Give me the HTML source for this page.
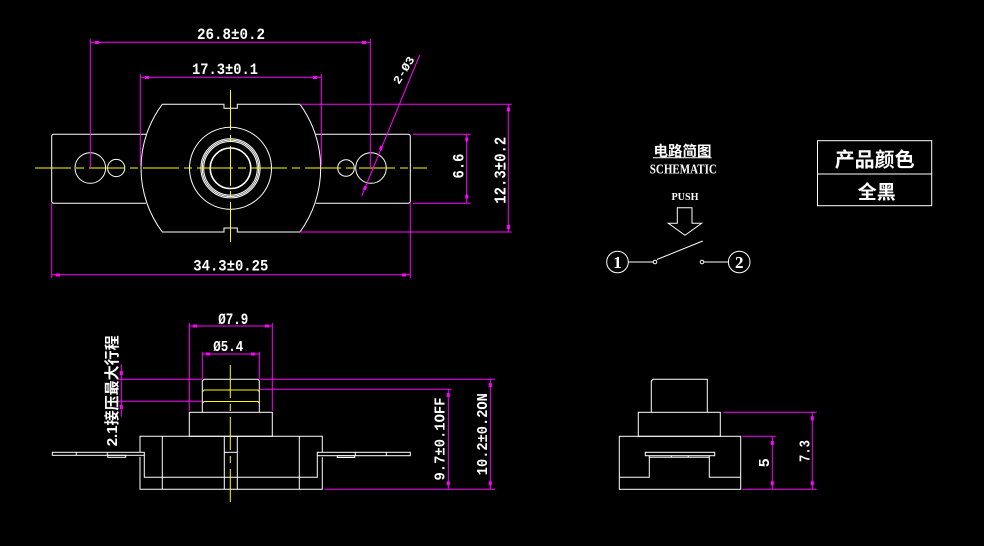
<!DOCTYPE html>
<html><head><meta charset="utf-8"><style>
html,body{margin:0;padding:0;background:#000;}
svg{display:block;}
text{font-family:"Liberation Mono","Noto Sans CJK SC",monospace;font-weight:bold;fill:#fff;}
.cjk{font-family:"Liberation Sans","Noto Sans CJK SC",sans-serif;font-weight:bold;}
.serif{font-family:"Liberation Serif","Noto Serif CJK SC",serif;font-weight:bold;}
</style></head><body>
<svg width="984" height="546" viewBox="0 0 984 546" xmlns="http://www.w3.org/2000/svg">
<rect width="984" height="546" fill="#000"/>

<!-- ===== TOP VIEW ===== -->
<g fill="none" stroke="#fff" stroke-width="1">
  <path d="M162.3,104.3 H224 V108.3 H237.3 V104.3 H300 A108.8,108.8 0 0 1 300,232 H237.3 V228 H224 V232 H162.3 A106.4,106.4 0 0 1 162.3,104.3 Z"/>
  <path d="M146,134.3 H54 Q51.7,134.3 51.7,136.5 V201 Q51.7,203.3 54,203.3 H146"/>
  <path d="M315.7,134.3 H408 Q410.3,134.3 410.3,136.5 V201 Q410.3,203.3 408,203.3 H315.7"/>
  <circle cx="90.3" cy="168" r="15.3"/>
  <circle cx="116.2" cy="168" r="8.6"/>
  <circle cx="346" cy="168" r="8.3"/>
  <circle cx="371" cy="168" r="15.3"/>
  <circle cx="230.5" cy="168.3" r="41"/>
  <circle cx="230.5" cy="168.3" r="29.6"/>
  <circle cx="230.5" cy="168.3" r="28.2"/>
  <circle cx="230.5" cy="168.3" r="26.8"/>
  <circle cx="230.5" cy="168.3" r="20.3" stroke-width="1.6"/>
</g>
<g stroke="#ffff00" stroke-width="1" fill="none">
  <line x1="35" y1="168" x2="427" y2="168" stroke-dasharray="36 5 8 5"/>
  <line x1="230.5" y1="90" x2="230.5" y2="247" stroke-dasharray="40 5 6 5"/>
</g>
<g stroke="#ff00ff" stroke-width="1" fill="none">
  <line x1="90.3" y1="39" x2="90.3" y2="168"/>
  <line x1="370.3" y1="39" x2="370.3" y2="168"/>
  <line x1="90.3" y1="42.3" x2="370.3" y2="42.3"/>
  <line x1="140.3" y1="74" x2="140.3" y2="165.7"/>
  <line x1="321.3" y1="74" x2="321.3" y2="165.7"/>
  <line x1="140.3" y1="77.3" x2="321.3" y2="77.3"/>
  <line x1="51.7" y1="203.3" x2="51.7" y2="278"/>
  <line x1="410.3" y1="203.3" x2="410.3" y2="278"/>
  <line x1="51.7" y1="274.7" x2="410.3" y2="274.7"/>
  <line x1="300" y1="104.3" x2="511.7" y2="104.3"/>
  <line x1="300" y1="232" x2="511.7" y2="232"/>
  <line x1="508.3" y1="104.3" x2="508.3" y2="232"/>
  <line x1="413" y1="134.3" x2="470.7" y2="134.3"/>
  <line x1="413" y1="203.3" x2="470.7" y2="203.3"/>
  <line x1="466.7" y1="134.3" x2="466.7" y2="203.3"/>
  <line x1="361.7" y1="196" x2="419.7" y2="55"/>
</g>
<g fill="#ff00ff">
  <rect x="95" y="41" width="4" height="3"/>
  <rect x="362" y="41" width="4" height="3"/>
  <rect x="145" y="76" width="4" height="3"/>
  <rect x="313" y="76" width="4" height="3"/>
  <rect x="56" y="273.5" width="4" height="3"/>
  <rect x="402" y="273.5" width="4" height="3"/>
  <rect x="507" y="107.5" width="3" height="4"/>
  <rect x="507" y="225" width="3" height="4"/>
  <rect x="465.3" y="137.5" width="3" height="4"/>
  <rect x="465.3" y="194.5" width="3" height="4"/>
  <rect x="379.5" y="146" width="3" height="4" transform="rotate(22 381 148)"/>
  <rect x="363.5" y="186" width="3" height="4" transform="rotate(22 365 188)"/>
</g>
<text x="231" y="39" font-size="16" text-anchor="middle" textLength="68" lengthAdjust="spacingAndGlyphs">26.8±0.2</text>
<text x="225" y="74" font-size="16" text-anchor="middle" textLength="66" lengthAdjust="spacingAndGlyphs">17.3±0.1</text>
<text x="230.8" y="270.7" font-size="16" text-anchor="middle" textLength="75" lengthAdjust="spacingAndGlyphs">34.3±0.25</text>
<text transform="translate(499.3,170.3) rotate(-90)" x="0" y="6" font-size="16.5" text-anchor="middle" textLength="67" lengthAdjust="spacingAndGlyphs">12.3±0.2</text>
<text transform="translate(458,166) rotate(-90)" x="0" y="5.6" font-size="15.5" text-anchor="middle" textLength="25" lengthAdjust="spacingAndGlyphs">6.6</text>
<text transform="translate(403.5,70) rotate(-58)" x="0" y="4" font-size="11.5" text-anchor="middle" textLength="30" lengthAdjust="spacingAndGlyphs">2-Ø3</text>

<!-- ===== SCHEMATIC ===== -->
<text class="cjk" x="682.5" y="156" font-size="14" text-anchor="middle" textLength="58" lengthAdjust="spacingAndGlyphs">电路简图</text>
<line x1="653" y1="157.8" x2="711.7" y2="157.8" stroke="#fff" stroke-width="1"/>
<text class="serif" x="683.3" y="173.3" font-size="14" text-anchor="middle" textLength="67" lengthAdjust="spacingAndGlyphs">SCHEMATIC</text>
<text class="serif" x="685" y="200" font-size="11" text-anchor="middle" textLength="27" lengthAdjust="spacingAndGlyphs">PUSH</text>
<g fill="none" stroke="#fff" stroke-width="1">
  <polygon points="677.3,207.7 692,207.7 692,223.3 701.7,223.3 685,235.3 668.3,223.3 677.3,223.3"/>
  <circle cx="617.5" cy="262" r="10.8"/>
  <circle cx="739.2" cy="262" r="10.8"/>
  <line x1="628.3" y1="262" x2="653" y2="262"/>
  <circle cx="655" cy="262" r="1.8"/>
  <line x1="657" y1="259.5" x2="702.7" y2="241"/>
  <circle cx="702" cy="262" r="1.8"/>
  <line x1="704" y1="262" x2="728.4" y2="262"/>
</g>
<text class="serif" x="617.5" y="268" font-size="17" text-anchor="middle">1</text>
<text class="serif" x="739.2" y="268" font-size="17" text-anchor="middle">2</text>

<rect x="817.5" y="140.7" width="114.2" height="65" fill="none" stroke="#fff" stroke-width="1"/>
<line x1="817.5" y1="174" x2="931.7" y2="174" stroke="#fff" stroke-width="1"/>
<text class="cjk" x="874.7" y="166.5" font-size="20" text-anchor="middle">产品颜色</text>
<text class="cjk" x="876.7" y="198.6" font-size="19" text-anchor="middle">全黑</text>

<!-- ===== SIDE VIEW (bottom left) ===== -->
<g fill="none" stroke="#fff" stroke-width="1">
  <path d="M202.3,412.3 V381 L204,379.3 H258 L259.3,381 V412.3"/>
  <rect x="189.3" y="412.3" width="83" height="24"/>
  <path d="M140,452.3 V436.3 H322.3 V452.3"/>
  <path d="M140,456.7 V489.3 H322.3 V457.3"/>
  <path d="M144.3,455.3 V477.3 H317.3 V455.7"/>
  <line x1="162.3" y1="436.3" x2="162.3" y2="489.3"/>
  <line x1="224.3" y1="436.3" x2="224.3" y2="489.3"/>
  <line x1="237.3" y1="436.3" x2="237.3" y2="489.3"/>
  <line x1="299.3" y1="436.3" x2="299.3" y2="489.3"/>
  <line x1="224.3" y1="452.3" x2="237.3" y2="452.3"/>
  <rect x="52.3" y="452.3" width="92" height="3"/>
  <line x1="76.3" y1="452.3" x2="76.3" y2="455.3"/>
  <line x1="107.3" y1="452.3" x2="107.3" y2="455.3"/>
  <rect x="107.7" y="455.3" width="18" height="2"/>
  <rect x="317.3" y="452.3" width="93" height="3.4"/>
  <line x1="355.3" y1="452.3" x2="355.3" y2="455.7"/>
  <line x1="386.3" y1="452.3" x2="386.3" y2="455.7"/>
  <rect x="337.3" y="455.7" width="17.4" height="1.8"/>
</g>
<g stroke="#ffff00" stroke-width="1" fill="none">
  <path d="M203,391.5 L204,390 H258 L259,391.5"/>
  <path d="M203,403 L204,401.5 H258 L259,403"/>
  <line x1="230.3" y1="365" x2="230.3" y2="505" stroke-dasharray="33 6 7 6"/>
</g>
<g stroke="#ff00ff" stroke-width="1" fill="none">
  <line x1="189.3" y1="323" x2="189.3" y2="410.7"/>
  <line x1="272.3" y1="323" x2="272.3" y2="410.7"/>
  <line x1="189.3" y1="326" x2="272.3" y2="326"/>
  <line x1="202.3" y1="351.7" x2="202.3" y2="379"/>
  <line x1="259.3" y1="351.7" x2="259.3" y2="379"/>
  <line x1="202.3" y1="354" x2="259.3" y2="354"/>
  <line x1="118" y1="379.3" x2="202" y2="379.3"/>
  <line x1="259.5" y1="379.3" x2="495" y2="379.3"/>
  <line x1="118" y1="401.3" x2="202" y2="401.3"/>
  <line x1="259.5" y1="389.3" x2="451.7" y2="389.3"/>
  <line x1="121.3" y1="364.3" x2="121.3" y2="416.7"/>
  <line x1="324.3" y1="489.3" x2="495" y2="489.3"/>
  <line x1="448.3" y1="389.3" x2="448.3" y2="489.3"/>
  <line x1="490.3" y1="379.3" x2="490.3" y2="489.3"/>
</g>
<g fill="#ff00ff">
  <rect x="193" y="324.5" width="4" height="3"/>
  <rect x="265" y="324.5" width="4" height="3"/>
  <rect x="206" y="352.5" width="4" height="3"/>
  <rect x="251" y="352.5" width="4" height="3"/>
  <rect x="119.8" y="371" width="3" height="4"/>
  <rect x="119.8" y="405" width="3" height="4"/>
  <rect x="446.8" y="393" width="3" height="4"/>
  <rect x="446.8" y="481.3" width="3" height="4"/>
  <rect x="488.8" y="383" width="3" height="4"/>
  <rect x="488.8" y="481.3" width="3" height="4"/>
</g>
<text x="233.3" y="324" font-size="16" text-anchor="middle" textLength="30" lengthAdjust="spacingAndGlyphs">Ø7.9</text>
<text x="228.3" y="351" font-size="15" text-anchor="middle" font-weight="normal" textLength="30" lengthAdjust="spacingAndGlyphs">Ø5.4</text>
<text class="cjk" transform="translate(111.3,390.8) rotate(-90)" x="0" y="5.5" font-size="15" text-anchor="middle" textLength="111" lengthAdjust="spacingAndGlyphs">2.1接压最大行程</text>
<text transform="translate(438.8,439) rotate(-90)" x="0" y="5.5" font-size="15" text-anchor="middle" textLength="83" lengthAdjust="spacingAndGlyphs">9.7±0.1OFF</text>
<text transform="translate(481.7,434.2) rotate(-90)" x="0" y="5.5" font-size="15" text-anchor="middle" textLength="82" lengthAdjust="spacingAndGlyphs">10.2±0.2ON</text>

<!-- ===== SIDE VIEW (bottom right) ===== -->
<g fill="none" stroke="#fff" stroke-width="1">
  <path d="M651.3,412.3 V381 L653,379.3 H707.3 V412.3"/>
  <rect x="638.3" y="412.3" width="82" height="24"/>
  <rect x="619.3" y="436.3" width="121.4" height="53"/>
  <rect x="645.3" y="452.3" width="69.4" height="3.4"/>
  <line x1="649.3" y1="457.3" x2="709.3" y2="457.3"/>
  <line x1="671.3" y1="455.7" x2="671.3" y2="457.3"/>
  <line x1="688.3" y1="455.7" x2="688.3" y2="457.3"/>
  <path d="M649.3,455.7 V477.3 H619.3"/>
  <path d="M709.3,455.7 V477.3 H740.7"/>
</g>
<g stroke="#ff00ff" stroke-width="1" fill="none">
  <line x1="742.3" y1="436.3" x2="775.7" y2="436.3"/>
  <line x1="723.3" y1="412.3" x2="816.7" y2="412.3"/>
  <line x1="742.3" y1="489.3" x2="816.7" y2="489.3"/>
  <line x1="772.3" y1="436.3" x2="772.3" y2="489.3"/>
  <line x1="812.3" y1="412.3" x2="812.3" y2="489.3"/>
</g>
<g fill="#ff00ff">
  <rect x="770.8" y="441" width="3" height="4"/>
  <rect x="770.8" y="481.3" width="3" height="4"/>
  <rect x="810.8" y="416.3" width="3" height="4"/>
  <rect x="810.8" y="481.3" width="3" height="4"/>
</g>
<text transform="translate(763.3,462.7) rotate(-90)" x="0" y="5.5" font-size="15" text-anchor="middle">5</text>
<text transform="translate(804,451) rotate(-90)" x="0" y="5.5" font-size="15" text-anchor="middle" textLength="22" lengthAdjust="spacingAndGlyphs">7.3</text>
</svg>
</body></html>
